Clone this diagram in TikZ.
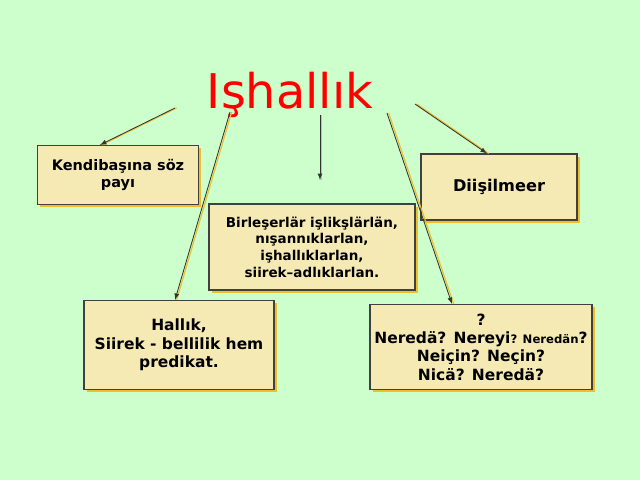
\documentclass[tikz,border=0pt]{standalone}
\usepackage{fontspec}
\setmainfont{DejaVu Sans}
\usetikzlibrary{positioning,calc}
\definecolor{bggreen}{RGB}{204,255,204}
\definecolor{boxfill}{RGB}{245,233,180}
\definecolor{shade}{RGB}{240,190,40}
\begin{document}
\begin{tikzpicture}[x=0.025cm,y=-0.025cm,
        box/.style={draw=black!75,fill=boxfill,thick,align=center,font=\bfseries\fontsize{10.3}{12}\selectfont,
                    inner sep=1pt,
                    preaction={fill=shade,transform canvas={shift={(1.8pt,-1.8pt)}}}},
        arr/.style={-latex,black!80,semithick,
                    preaction={draw=shade,thick,-,transform canvas={shift={(1.2pt,0pt)}}}}]
    \fill[bggreen] (0,0) rectangle (640,480);
    \node (T) [red,font=\fontsize{34}{40}\selectfont] at (290,95) {Işhallık};
    \node (K) [box,minimum width=161*0.025cm,minimum height=59*0.025cm] at (118,175) {Kendibaşına söz\\payı};
    \node (D) [box,minimum width=156*0.025cm,minimum height=66*0.025cm,font=\bfseries\fontsize{11.5}{13}\selectfont] at (499,187) {Diişilmeer};
    \node (B) [box,minimum width=206*0.025cm,minimum height=86*0.025cm,font=\bfseries\fontsize{9.6}{11.8}\selectfont] at (312,247) {Birleşerlär işlikşlärlän,\\nışannıklarlan,\\işhallıklarlan,\\siirek–adlıklarlan.};
    \node (H) [box,minimum width=190*0.025cm,minimum height=89*0.025cm,font=\bfseries\fontsize{11}{13}\selectfont] at (179,345) {Hallık,\\Siirek - bellilik hem\\predikat.};
    \node (Q) [box,minimum width=222*0.025cm,minimum height=85*0.025cm,inner sep=0pt,font=\bfseries\fontsize{11}{13}\selectfont] at (481,347) {?\\Neredä? Nereyi{\fontsize{8.3}{9}\selectfont? Neredän}?\\Neiçin? Neçin?\\Nicä? Neredä?};
    \coordinate (s1) at (175,108);
    \coordinate (s2) at (230,112);
    \coordinate (s3) at (320,115);
    \coordinate (s4) at (387,113);
    \coordinate (s5) at (415,104);
    \draw[arr] (s1) -- ([xshift=-18*0.025cm]K.north);
    \draw[arr] (s2) -- ([xshift=-4*0.025cm]H.north);
    \draw[arr] (s3) -- (320,180);
    \draw[arr] (s4) -- ([xshift=-29*0.025cm]Q.north);
    \draw[arr] (s5) -- ([xshift=-12*0.025cm]D.north);
\end{tikzpicture}
\end{document}
